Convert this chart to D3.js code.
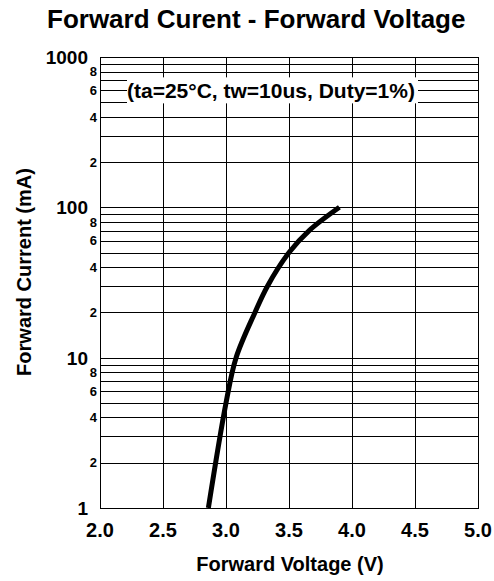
<!DOCTYPE html>
<html>
<head>
<meta charset="utf-8">
<script src="https://d3js.org/d3.v7.min.js"></script>
<style>
  body { margin: 0; background: #fff; }
  text { font-family: "Liberation Sans", Arial, sans-serif; font-weight: bold; fill: #000; }
</style>
</head>
<body>
<div id="chart"></div>
<script>
// forward current vs forward voltage, log y
var voltage = [2.86, 3.0, 3.08, 3.23, 3.33, 3.5, 3.66, 3.9];
var current = [1, 5, 10, 20, 30, 50, 70, 100];

var xTicks = [2.0, 2.5, 3.0, 3.5, 4.0, 4.5, 5.0];
var majorTicks = [1, 10, 100, 1000];
var minorLabels = [2, 4, 6, 8];
var titleText = "Forward Curent - Forward Voltage";
var xTitle = "Forward Voltage (V)";
var yTitle = "Forward Current (mA)";
var note = "(ta=25\u00B0C, tw=10us, Duty=1%)";

var W = 494, H = 581;
var margin = { top: 57, right: 16, bottom: 73, left: 100 },
    width = W - margin.left - margin.right,
    height = H - margin.top - margin.bottom;

var svg = d3.select('#chart')
  .append('svg')
  .attr('width', W)
  .attr('height', H);

var x = d3.scaleLinear().domain([2, 5]).range([0, width]);
var y = d3.scaleLog().domain([1, 1000]).range([height, 0]);

var g = svg.append('g')
  .attr('transform', 'translate(' + margin.left + ',' + margin.top + ')');

// all grid values 1..9 per decade
var gridVals = [];
for (var k = 0; k < 3; k++) {
  for (var d = 1; d < 10; d++) {
    gridVals.push(d * Math.pow(10, k));
  }
}
gridVals.push(1000);

g.append('g').selectAll('line')
  .data(gridVals)
  .enter()
  .append('line')
  .attr('x1', 0)
  .attr('x2', width)
  .attr('y1', d => Math.round(y(d)) + 0.5)
  .attr('y2', d => Math.round(y(d)) + 0.5)
  .attr('stroke', '#000')
  .attr('stroke-width', 1);

g.append('g').selectAll('line')
  .data(xTicks)
  .enter()
  .append('line')
  .attr('x1', d => Math.round(x(d)) + 0.5)
  .attr('x2', d => Math.round(x(d)) + 0.5)
  .attr('y1', 0)
  .attr('y2', height)
  .attr('stroke', '#000')
  .attr('stroke-width', 1);

// border
g.append('rect')
  .attr('x', 0.5)
  .attr('y', 0.5)
  .attr('width', width)
  .attr('height', height)
  .attr('fill', 'none')
  .attr('stroke', '#000')
  .attr('stroke-width', 1);

// note box, white behind text
var noteY = y(600);
g.append('rect')
  .attr('x', 27)
  .attr('y', noteY - 13)
  .attr('width', 291)
  .attr('height', 26)
  .attr('fill', '#fff');

g.append('text')
  .attr('x', 27)
  .attr('y', noteY)
  .attr('dy', '0.36em')
  .attr('font-size', 21)
  .text(note);

// curve
var line = d3.line()
  .x(d => x(d[0]))
  .y(d => y(d[1]))
  .curve(d3.curveCatmullRom.alpha(0.5));

g.append('path')
  .datum(voltage.map((v, i) => [v, current[i]]))
  .attr('d', line)
  .attr('fill', 'none')
  .attr('stroke', '#000')
  .attr('stroke-width', 5);

// y labels
g.append('g').selectAll('text')
  .data(majorTicks)
  .enter()
  .append('text')
  .attr('x', -12)
  .attr('y', d => y(d))
  .attr('dy', '0.36em')
  .attr('text-anchor', 'end')
  .attr('font-size', 19)
  .text(d => d);

var minorVals = [];
for (var k = 0; k < 3; k++) {
  minorLabels.forEach(m => minorVals.push({ v: m * Math.pow(10, k), t: m }));
}
g.append('g').selectAll('text')
  .data(minorVals)
  .enter()
  .append('text')
  .attr('x', -3)
  .attr('y', d => y(d.v))
  .attr('dy', '0.36em')
  .attr('text-anchor', 'end')
  .attr('font-size', 13)
  .text(d => d.t);

// x labels
g.append('g').selectAll('text')
  .data(xTicks)
  .enter()
  .append('text')
  .attr('x', d => x(d))
  .attr('y', height + 22)
  .attr('dy', '0.36em')
  .attr('text-anchor', 'middle')
  .attr('font-size', 20)
  .text(d => d.toFixed(1));

// titles
svg.append('text')
  .attr('x', 47)
  .attr('y', 28)
  .attr('font-size', 26)
  .text(titleText);

svg.append('text')
  .attr('x', 290)
  .attr('y', 571)
  .attr('text-anchor', 'middle')
  .attr('font-size', 20)
  .text(xTitle);

svg.append('text')
  .attr('transform', 'translate(31,272) rotate(-90)')
  .attr('text-anchor', 'middle')
  .attr('font-size', 20)
  .text(yTitle);
</script>
</body>
</html>
